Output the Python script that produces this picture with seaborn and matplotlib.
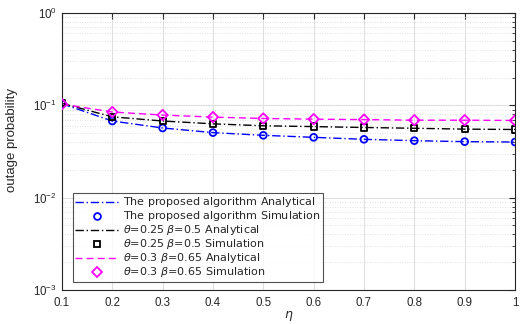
import matplotlib
matplotlib.use("Agg")
import matplotlib.pyplot as plt
import matplotlib.ticker as mticker
import seaborn as sns
import pandas as pd

eta = [0.1, 0.2, 0.3, 0.4, 0.5, 0.6, 0.7, 0.8, 0.9, 1.0]
proposed = [0.104, 0.0676, 0.0568, 0.0506, 0.0473, 0.0450, 0.0428, 0.0414, 0.0404, 0.0400]
theta025 = [0.105, 0.0750, 0.0676, 0.0630, 0.0600, 0.0588, 0.0575, 0.0564, 0.0552, 0.0547]
theta03 = [0.103, 0.0846, 0.0784, 0.0745, 0.0720, 0.0708, 0.0700, 0.0690, 0.0690, 0.0685]

# legend labels written as mathtext so every row has the same height
names = [r"\text{The proposed algorithm}", r"\theta\text{=0.25 }\beta\text{=0.5}",
         r"\theta\text{=0.3 }\beta\text{=0.65}"]
series = [proposed, theta025, theta03]
colors = ["#0000ff", "#000000", "#ff00ff"]
dashes = [(6, 2, 1, 2), (6, 2, 1, 2), (5, 3)]
markers = ["o", "s", "D"]
msizes = [24, 20, 28]

df = pd.concat([pd.DataFrame({"eta": eta, "p": s, "name": n}) for n, s in zip(names, series)])

sns.set_style("white")
plt.rcParams["font.family"] = ["Liberation Sans", "DejaVu Sans"]
plt.rcParams["mathtext.fontset"] = "custom"
plt.rcParams["mathtext.rm"] = "DejaVu Sans"
plt.rcParams["mathtext.it"] = "DejaVu Sans:italic"

fig = plt.figure(figsize=(5.25, 3.24), dpi=100)
ax = fig.add_axes([0.118, 0.105, 0.863, 0.855])

handles = []
for n, c, d, m, ms in zip(names, colors, dashes, markers, msizes):
    sub = df[df["name"] == n]
    sns.lineplot(data=sub, x="eta", y="p", color=c, lw=1.0, ax=ax, legend=False)
    ax.lines[-1].set_dashes(d)
    sns.scatterplot(data=sub, x="eta", y="p", marker=m, s=ms,
                    facecolor="none", edgecolor=c, linewidth=1.3, ax=ax, legend=False, zorder=3)
    h1, = ax.plot([], [], color=c, lw=1.0, dashes=d)
    h2, = ax.plot([], [], ls="none", marker=m, mfc="none", mec=c, mew=1.3, ms=ms ** 0.5)
    handles += [(h1, "$" + n + r"\text{ Analytical}$"), (h2, "$" + n + r"\text{ Simulation}$")]

ax.set_yscale("log")
ax.set_xlim(0.1, 1.0)
ax.set_ylim(1e-3, 1)
ax.set_xticks(eta)
ax.xaxis.set_major_formatter(mticker.FuncFormatter(lambda v, p: "1" if abs(v - 1) < 1e-9 else f"{v:.1f}"))
ax.yaxis.set_major_locator(mticker.LogLocator(base=10, numticks=10))
ax.yaxis.set_minor_locator(mticker.LogLocator(base=10, subs=range(2, 10), numticks=10))
ax.yaxis.set_minor_formatter(mticker.NullFormatter())

ax.grid(True, which="major", color="#e0e0e0", lw=0.8)
ax.grid(True, which="minor", axis="y", color="#d8d8d8", lw=0.6, ls=(0, (1, 2)))
ax.set_axisbelow(True)
ax.tick_params(which="both", direction="in", top=True, right=True, labelsize=8.3, colors="#262626")
ax.tick_params(which="major", length=4)
ax.tick_params(which="minor", length=2)
ax.tick_params(axis="x", pad=5)
for sp in ax.spines.values():
    sp.set_color("#262626")
    sp.set_linewidth(0.8)

ax.set_xlabel(r"$\eta$", fontsize=9, labelpad=0)
ax.set_ylabel("outage probability", fontsize=9.5)
ax.yaxis.set_label_coords(-0.097, 0.54)

leg = ax.legend([h for h, _ in handles], [l for _, l in handles], loc="lower left",
                bbox_to_anchor=(0.024, 0.03), frameon=True, fancybox=False,
                prop={"family": "DejaVu Sans", "size": 8},
                borderpad=0.2, labelspacing=0.0, handlelength=3.9, handletextpad=0.45,
                borderaxespad=0)
leg.get_frame().set_edgecolor("#262626")
leg.get_frame().set_linewidth(0.8)

fig.savefig("out.png", dpi=100)
